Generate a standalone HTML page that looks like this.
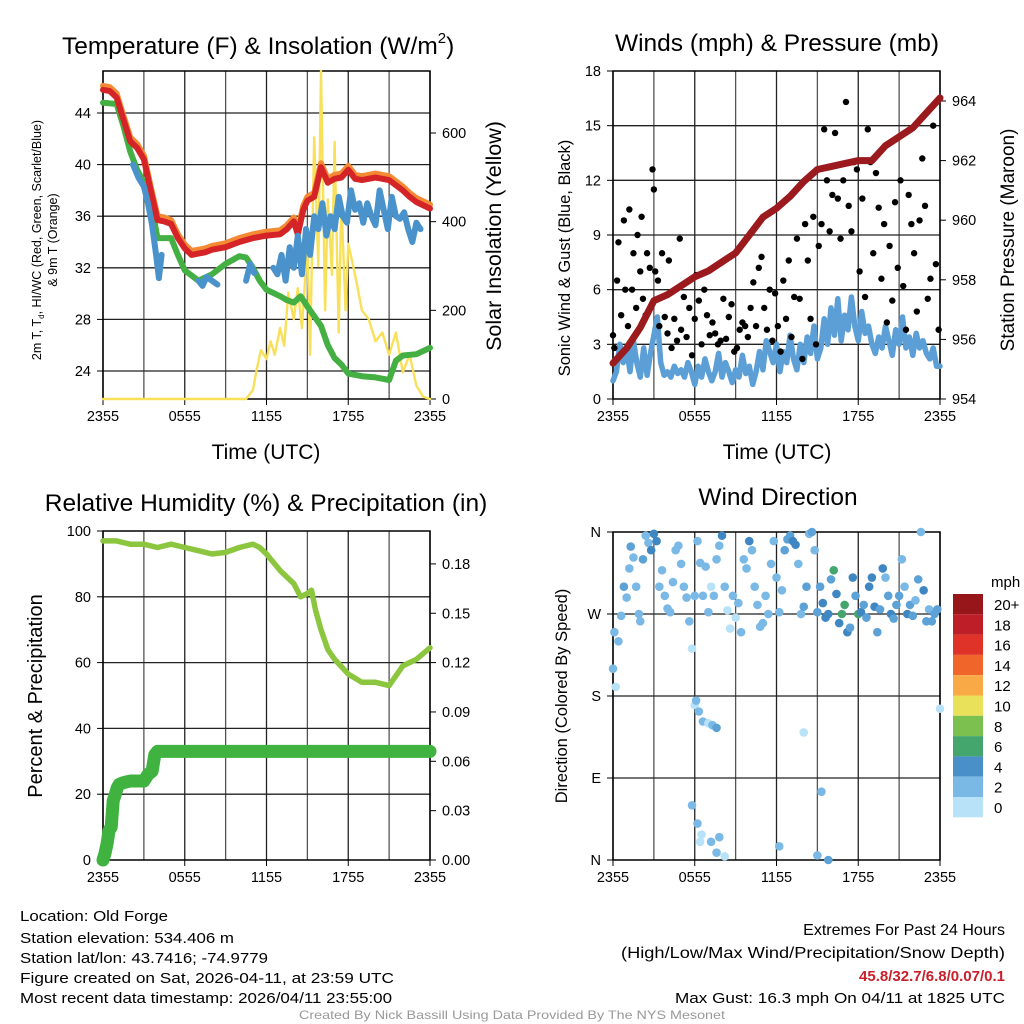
<!DOCTYPE html>
<html><head><meta charset="utf-8"><style>
html,body{margin:0;padding:0;background:#fff}
svg{display:block;font-family:"Liberation Sans",Arial,sans-serif}
</style></head><body>
<svg id="s" width="1024" height="1024" viewBox="0 0 1024 1024" xmlns="http://www.w3.org/2000/svg">
<g font-size="15" fill="#000">
<text x="20" y="921" textLength="148" lengthAdjust="spacingAndGlyphs">Location: Old Forge</text>
<text x="20" y="943" textLength="214" lengthAdjust="spacingAndGlyphs">Station elevation: 534.406 m</text>
<text x="20" y="963" textLength="248" lengthAdjust="spacingAndGlyphs">Station lat/lon: 43.7416; -74.9779</text>
<text x="20" y="983" textLength="374" lengthAdjust="spacingAndGlyphs">Figure created on Sat, 2026-04-11, at 23:59 UTC</text>
<text x="20" y="1003" textLength="372" lengthAdjust="spacingAndGlyphs">Most recent data timestamp: 2026/04/11 23:55:00</text>
<text x="1005" y="935" text-anchor="end" font-size="16">Extremes For Past 24 Hours</text>
<text x="1005" y="958" text-anchor="end" font-size="16" textLength="384" lengthAdjust="spacingAndGlyphs">(High/Low/Max Wind/Precipitation/Snow Depth)</text>
<text x="1005" y="981" text-anchor="end" font-weight="bold" fill="#c8202a">45.8/32.7/6.8/0.07/0.1</text>
<text x="1005" y="1003" text-anchor="end" textLength="330" lengthAdjust="spacingAndGlyphs">Max Gust: 16.3 mph On 04/11 at 1825 UTC</text>
<text x="512" y="1019" text-anchor="middle" font-size="12" fill="#999" textLength="426" lengthAdjust="spacingAndGlyphs">Created By Nick Bassill Using Data Provided By The NYS Mesonet</text>
</g>
</svg>
<script>
// ---------- data ----------
const tempT=[0,0.5,1,1.5,2,2.5,3,3.5,4,4.5,5,5.5,6,6.5,7,7.5,8,9,10,11,12,13,13.5,14,14.3,14.7,15,15.5,16,16.5,17,17.5,18,18.5,19,20,21,22,22.5,23,24];
const tempV=[45.8,45.7,45.2,43.5,41.8,41.3,40.4,38,35.7,35.6,35.4,34.3,33.5,33,33.1,33.2,33.4,33.6,34,34.3,34.5,34.6,35,35.6,34.6,36.5,37.2,37.5,39.8,38.6,38.9,39,39.6,38.9,38.8,39,38.8,38,37.5,37.1,36.6];
const dewT=[0,1,1.5,2,2.5,3,3.3,3.7,4,5,5.5,6,7,8,9,10,10.5,11,11.5,12,13,13.5,14,14.5,15,16,16.5,17,17.5,18,19,20,21,21.5,22,23,24];
const dewV=[44.8,44.7,43,41,39.6,38.6,37.5,36,34.3,34.3,33,31.8,31,31.5,32.3,32.9,32.8,32,31,30.3,29.8,29.5,29.3,29.8,29,27.5,26,25,24.5,23.8,23.6,23.5,23.3,24.8,25.2,25.3,25.8];
const wcT=[2.2,2.6,3,3.3,3.6,3.9,4.1,4.3,null,7,7.3,7.6,8,8.4,null,10.5,10.8,11.1,null,12.5,12.8,13.1,13.4,13.7,14,14.3,14.6,14.9,15.2,15.5,15.8,16.1,16.4,16.7,17,17.3,17.6,17.9,18.2,18.5,18.8,19.1,19.4,19.7,20,20.3,20.6,20.9,21.2,21.5,21.8,22.1,22.4,22.7,23,23.3];
const wcV=[40,39,38.3,37,35.3,33,31.2,33,null,31,30.6,31.3,31,30.7,null,31,32.3,31.6,null,32,31.5,33,31,33.6,32,34.5,31.5,35,33,36,35,37,34.5,36,35,37.5,36,35.5,38,36.5,37,35.5,37,36,35.3,38,36.5,35,37.5,36,35.8,36.3,35,34,35.5,35];
const solT=[0,10.5,11,11.3,11.6,12,12.3,12.6,13,13.3,13.6,14,14.3,14.6,15,15.2,15.5,15.8,16,16.3,16.5,16.8,17,17.3,17.5,17.8,18,18.5,19,19.5,20,20.5,21,21.5,22,22.5,23,23.5,24];
const solV=[0,0,20,70,110,90,130,100,160,120,240,180,250,160,350,100,590,300,740,200,450,280,580,150,450,200,350,280,200,180,130,150,100,150,60,100,30,5,0];
const presT=[0,1,2,3,4,5,6,7,8,9,10,11,12,13,14,15,16,17,18,19,20,21,22,23,24];
const presV=[955.2,955.7,956.4,957.3,957.5,957.8,958.1,958.3,958.6,958.9,959.5,960.1,960.4,960.8,961.3,961.7,961.8,961.9,962.0,962.0,962.5,962.8,963.1,963.6,964.1];
const windV=[1,1.5,3,2,2.8,1.5,3.2,2,1.2,2.8,1.3,2.5,3.5,4.5,2,1.3,1.5,1.2,1.8,1.4,1.6,1.2,2,1.5,0.8,1.8,1.2,2.2,1.5,1,1.5,2.5,1.2,2,1.5,0.9,1.6,1.2,2.4,1.4,1.8,0.8,1.5,2.6,1.6,3.2,2.6,2,3,1.5,2.6,2,3.5,2.2,1.6,3,2,3.4,2.5,4,2.2,2.8,4.4,3,5,3.5,5.5,3.2,4.6,3.8,5.6,4,3.2,4.8,3.6,4,3,2.5,3.4,2.8,4,3.2,2.4,3.8,3,4.5,2.8,3.4,2.4,3.6,2.8,3.2,2.5,2.2,2.8,1.8,1.8];
const gustT=[0,0.1,0.3,0.4,0.6,0.8,0.9,1.1,1.2,1.4,1.5,1.7,1.8,2,2.1,2.2,2.4,2.5,2.7,2.9,3,3.1,3.3,3.4,3.6,3.8,4,4.1,4.3,4.5,4.7,4.9,5,5.2,5.4,5.6,5.8,6,6.1,6.3,6.5,6.7,6.9,7.1,7.3,7.5,7.7,7.9,8.1,8.3,8.5,8.7,8.9,9.1,9.3,9.5,9.7,9.9,10.1,10.3,10.5,10.7,10.9,11.1,11.3,11.5,11.7,11.9,12.1,12.3,12.5,12.7,12.9,13.1,13.3,13.5,13.7,13.9,14.1,14.3,14.5,14.7,14.9,15.1,15.3,15.5,15.7,15.9,16.1,16.3,16.5,16.7,16.9,17.1,17.3,17.5,17.7,17.9,18.1,18.3,18.5,18.7,18.9,19.1,19.3,19.5,19.7,19.9,20.1,20.3,20.5,20.7,20.9,21.1,21.3,21.5,21.7,21.9,22.1,22.3,22.5,22.7,22.9,23.1,23.3,23.5,23.7,23.9];
const gustV=[3.5,2.8,6.5,8.6,4.6,9.8,6,4,10.4,6,8,5,9,7,10,5.5,4.6,8,7.2,12.6,11.5,7,6.5,4,8,4.5,3.6,7.6,2.8,4.4,3.2,8.8,3.8,5.6,3.4,5,2.4,4.4,6.8,5.4,3,6,4.6,3.5,4.2,3.6,3,3.2,5.5,3.3,4.5,5.2,2.6,2.8,3.8,4.2,4,3.4,5,6.4,4,7.2,7.8,5,3.8,6,3.2,5.8,4,2.6,6.5,4.4,7.6,3.4,5.6,8.8,5.5,2.2,9.6,7.6,4.4,10,3,8.4,9.6,14.8,12,9.2,11.2,14.6,11,8.8,12,16.3,10.6,9.2,13,12.6,7,11,5.6,14.8,13,8,12.4,10.5,6.6,9.6,4.2,8.4,5.4,10.8,7.2,12,6.2,3.8,11.2,9.6,8,4.8,9.8,13.2,10.6,5.5,6.6,15,7.4,3.8,5,4.2];
const rhT=[0,1,2,3,4,5,6,7,8,9,10,11,11.5,12,13,14,14.5,15,15.3,15.6,16,16.5,17,18,19,20,21,21.5,22,23,24];
const rhV=[97,97,96,96,95,96,95,94,93,93.5,95,96,95,93,88,84,80,81,82,76,70,64,61,56.5,54,54,53,56,59,61,64.5];
const pcpT=[0,0.15,0.3,0.45,0.6,0.75,0.9,1.05,1.2,1.5,2,2.5,3,3.3,3.6,3.8,4,24];
const pcpV=[0,0.004,0.01,0.018,0.02,0.036,0.04,0.044,0.046,0.047,0.048,0.048,0.048,0.052,0.054,0.064,0.066,0.066];
const dirT=[0,0.1,0.2,0.4,0.6,0.8,1,1.2,1.3,1.5,1.7,1.9,2,2.2,2.4,2.6,2.8,3,3.2,3.4,3.6,3.8,4,4.2,4.4,4.6,4.8,5,5.2,5.4,5.6,5.8,6,6.2,6.4,6.6,6.8,7,7.2,7.4,7.6,7.8,8,8.2,8.4,8.6,8.8,9,9.2,9.4,9.6,9.8,10,10.2,10.4,10.6,10.8,11,11.2,11.4,11.6,11.8,12,12.2,12.4,12.6,12.8,13,13.2,13.4,13.6,13.8,14,14.2,14.4,14.6,14.8,15,15.2,15.4,15.6,15.8,16,16.2,16.4,16.6,16.8,17,17.2,17.4,17.6,17.8,18,18.2,18.4,18.6,18.8,19,19.2,19.4,19.6,19.8,20,20.2,20.4,20.6,20.8,21,21.2,21.4,21.6,21.8,22,22.2,22.4,22.6,22.8,23,23.2,23.4,23.6,23.8,24,6,6.3,6.6,7,7.3,7.6,5.8,6.2,6.5,7.2,7.6,8.2,14,15.3,15.8,15,6.1,6.4,7.8,12.2];
const dirV=[210,250,190,240,268,300,288,320,344,332,300,270,262,330,356,348,340,358,350,300,318,290,276,272,305,340,345,325,300,288,262,232,290,350,326,290,322,272,300,290,330,345,356,300,274,254,290,266,282,250,330,320,350,340,300,280,256,260,290,270,325,350,310,272,296,340,352,356,350,346,325,270,278,300,358,360,340,272,300,282,266,270,308,318,292,260,270,280,250,255,310,290,270,272,280,266,300,310,278,250,275,320,310,290,270,265,280,290,330,300,270,280,268,285,308,360,296,262,275,262,270,275,166,170,163,152,150,148,145,60,40,28,20,8,4,140,75,0,5,175,20,25,15,2];
const dirS=[1,1,0,1,1,2,1,1,2,1,1,1,1,2,1,1,3,3,3,1,1,1,1,1,1,1,1,1,1,1,1,0,1,1,1,1,1,1,0,1,1,1,3,1,0,0,1,0,1,1,1,1,3,1,1,1,1,1,1,1,1,1,1,1,1,2,2,2,3,3,1,1,2,2,1,2,1,2,2,3,3,3,2,4,3,3,4,4,3,2,3,2,4,3,2,2,3,3,3,2,2,3,1,2,3,2,2,2,1,1,3,2,2,1,2,1,3,2,1,2,2,2,0,0,1,1,0,1,2,1,1,0,1,1,0,0,1,2,1,1,0,1,1,1];
const legendLabels=["20+","18","16","14","12","10","8","6","4","2","0"];
const legendColors=["#961619","#be1e27","#df3329","#f0652a","#f9a946","#e9e15a","#7cc14f","#45a66d","#4a90c8","#7ab9e6","#b8e2f8"];
const speedColors=["#b8e2f8","#7ab9e6","#5ca2d6","#3f87c2","#45a66d"];
const timeTicks=["2355","0555","1155","1755","2355"];

// ---------- helpers ----------
const NS="http://www.w3.org/2000/svg";
const svg=document.getElementById('s');
function mk(tag,attrs,parent){const e=document.createElementNS(NS,tag);for(const k in attrs)e.setAttribute(k,attrs[k]);(parent||svg).appendChild(e);return e;}
function txt(s,attrs,parent,name){const e=mk('text',attrs,parent);e.textContent=s;

return e;}
function panel(x0,x1,y0,y1,name){
 const g=mk('g',{});
 
 
 return {g,x0,x1,y0,y1,X:t=>x0+(x1-x0)*t/24};
}
function lin(d0,d1,p0,p1){return v=>p0+(v-d0)*(p1-p0)/(d1-d0);}
function path(P,T,V,Y,attrs,name){
 let d="",pen=false;
 for(let i=0;i<T.length;i++){if(T[i]===null){pen=false;continue;}d+=(pen?"L":"M")+P.X(T[i]).toFixed(1)+","+Y(V[i]).toFixed(1);pen=true;}
 const e=mk('path',Object.assign({d,fill:'none','stroke-linejoin':'round','stroke-linecap':'round'},attrs),P.g);
 
 
 return e;
}
function frame(P,hvals,Y){
 const gg=mk('g',{},P.g);
 
 
 for(let k=0;k<=8;k++){const x=P.X(k*3);mk('line',{x1:x,x2:x,y1:P.y0,y2:P.y1,stroke:k%2?'#555':'#222','stroke-width':1.3},gg);}
 hvals.forEach(v=>{const y=Y(v);mk('line',{x1:P.x0,x2:P.x1,y1:y,y2:y,stroke:'#222','stroke-width':1.3},gg);});
 mk('rect',{x:P.x0,y:P.y0,width:P.x1-P.x0,height:P.y1-P.y0,fill:'none',stroke:'#000','stroke-width':1.5},gg);
 const ax=mk('g',{'font-size':14.5},P.g);
 
 
 timeTicks.forEach((s,i)=>{const x=P.X(i*6);mk('line',{x1:x,x2:x,y1:P.y1,y2:P.y1+6,stroke:'#000'},ax);txt(s,{x:x,y:P.y1+22,'text-anchor':'middle'},ax,'x-tick-label');});
}
function yticks(P,vals,labels,Y,side,name){
 const ax=mk('g',{'font-size':14.5},P.g);
 
 
 vals.forEach((v,i)=>{const y=Y(v);
  if(side==='l'){mk('line',{x1:P.x0-6,x2:P.x0,y1:y,y2:y,stroke:'#000'},ax);txt(labels[i],{x:P.x0-12,y:y+5,'text-anchor':'end'},ax,'y-tick-label');}
  else{mk('line',{x1:P.x1,x2:P.x1+6,y1:y,y2:y,stroke:'#000'},ax);txt(labels[i],{x:P.x1+12,y:y+5,'text-anchor':'start'},ax,'y-tick-label');}
 });
}
function vlabel(s,x,y,size,parent,name){return txt(s,{x:0,y:0,'font-size':size,'text-anchor':'middle',transform:`translate(${x},${y}) rotate(-90)`},parent,name);}

// ---------- Panel 1 ----------
{
const P=panel(103,430,71,399,'temperature-panel');
const Y=lin(24,44,371,113), YS=lin(0,600,399,133);
frame(P,[24,28,32,36,40,44],Y);
yticks(P,[24,28,32,36,40,44],["24","28","32","36","40","44"],Y,'l','left-y-axis');
yticks(P,[0,200,400,600],["0","200","400","600"],YS,'r','right-y-axis');
path(P,solT,solV,YS,{stroke:'#f8e05a','stroke-width':2.4},'solar-line');
path(P,dewT,dewV,Y,{stroke:'#44b043','stroke-width':6},'dewpoint-line');
path(P,tempT,tempV.map(v=>v+0.3),Y,{stroke:'#f58a34','stroke-width':6},'temp-9m-line');
path(P,tempT,tempV,Y,{stroke:'#d42427','stroke-width':6},'temp-2m-line');
path(P,wcT,wcV,Y,{stroke:'#4a92cb','stroke-width':6},'windchill-line');
txt("Temperature (F) & Insolation (W/m",{x:62,y:54,'font-size':24.5},P.g,'chart-title').innerHTML+='<tspan font-size="15" dy="-11">2</tspan><tspan dy="11">)</tspan>';
txt("Time (UTC)",{x:266,y:459,'font-size':21,'text-anchor':'middle'},P.g,'x-axis-title');
const t1=vlabel("",41,240,12.5,P.g,'y-axis-title');t1.innerHTML='2m T, T<tspan font-size="8" dy="3">d</tspan><tspan dy="-3">, HI/WC (Red, Green, Scarlet/Blue)</tspan>';
vlabel("& 9m T (Orange)",57,240,12.5,P.g,'y-axis-title-line2');
vlabel("Solar Insolation (Yellow)",501,236,21.5,P.g,'right-axis-title');
}
// ---------- Panel 2 ----------
{
const P=panel(613,940,71,399,'winds-panel');
const Y=lin(0,18,399,71), YP=lin(954,964,399,101);
frame(P,[3,6,9,12,15],Y);
yticks(P,[0,3,6,9,12,15,18],["0","3","6","9","12","15","18"],Y,'l','left-y-axis');
yticks(P,[954,956,958,960,962,964],["954","956","958","960","962","964"],YP,'r','right-y-axis');
const wT=windV.map((v,i)=>i*24/(windV.length-1));
path(P,wT,windV,Y,{stroke:'#5b9fd6','stroke-width':5.5},'wind-speed-line');
const gd=mk('g',{},P.g);


gustT.forEach((t,i)=>{const c=mk('circle',{cx:P.X(t),cy:Y(gustV[i]),r:3.2,fill:'#000'},gd);

});
path(P,presT,presV,YP,{stroke:'#9a1a1d','stroke-width':7},'pressure-line');
txt("Winds (mph) & Pressure (mb)",{x:777,y:51,'font-size':24.5,'text-anchor':'middle'},P.g,'chart-title');
txt("Time (UTC)",{x:777,y:459,'font-size':21,'text-anchor':'middle'},P.g,'x-axis-title');
vlabel("Sonic Wind & Gust (Blue, Black)",570,258,16.5,P.g,'y-axis-title');
vlabel("Station Pressure (Maroon)",1014,240,19,P.g,'right-axis-title');
}
// ---------- Panel 3 ----------
{
const P=panel(103,430,531,860,'humidity-panel');
const Y=lin(0,100,860,531), YR=lin(0,0.2,860,531);
frame(P,[20,40,60,80],Y);
yticks(P,[0,20,40,60,80,100],["0","20","40","60","80","100"],Y,'l','left-y-axis');
yticks(P,[0,0.03,0.06,0.09,0.12,0.15,0.18],["0.00","0.03","0.06","0.09","0.12","0.15","0.18"],YR,'r','right-y-axis');
path(P,rhT,rhV,Y,{stroke:'#8cc63f','stroke-width':5.5},'rh-line');
path(P,pcpT,pcpV,YR,{stroke:'#3fb23f','stroke-width':13},'precip-line');
txt("Relative Humidity (%) & Precipitation (in)",{x:266,y:511,'font-size':24.5,'text-anchor':'middle'},P.g,'chart-title');
vlabel("Percent & Precipitation",42,696,20,P.g,'y-axis-title');
}
// ---------- Panel 4 ----------
{
const P=panel(613,940,532,860,'wind-direction-panel');
const Y=lin(0,360,860,532);
frame(P,[90,180,270],Y);
yticks(P,[0,90,180,270,360],["N","E","S","W","N"],Y,'l','left-y-axis');
const gd=mk('g',{},P.g);


dirT.forEach((t,i)=>{const c=mk('circle',{cx:P.X(t),cy:Y(dirV[i]),r:4.3,fill:speedColors[dirS[i]]},gd);

});
txt("Wind Direction",{x:778,y:505,'font-size':24.5,'text-anchor':'middle'},P.g,'chart-title');
vlabel("Direction (Colored By Speed)",567,696,16.5,P.g,'y-axis-title');
const lg=mk('g',{'font-size':15},P.g);


txt("mph",{x:991,y:587},lg,'legend-title');
legendLabels.forEach((s,i)=>{const y=594+i*20.3;
 const r=mk('rect',{x:953,y:y,width:30,height:20.3,fill:legendColors[i]},lg);
 
 
 txt(s,{x:994,y:y+16},lg,'legend-label');});
}
</script>
</body></html>
